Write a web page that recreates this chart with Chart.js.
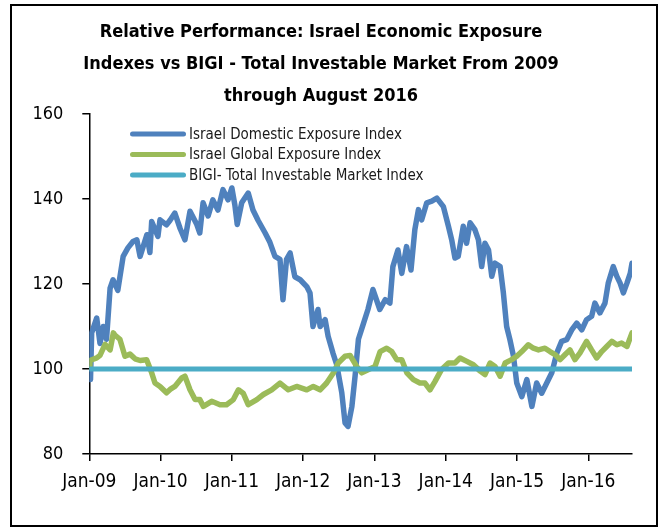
<!DOCTYPE html>
<html>
<head>
<meta charset="utf-8">
<script src="https://cdn.jsdelivr.net/npm/chart.js@4.4.1/dist/chart.umd.min.js"></script>
<style>
    body { margin: 0; background: #fff; }
    #moldura { position: absolute; left: 10px; top: 4px; width: 644px; height: 519px; border: 2px solid #000; }
    #grafico { position: absolute; left: 0; top: 0; }
</style>
</head>
<body>
<div id="moldura"></div>
<canvas id="grafico" width="663" height="530"></canvas>
<script>
// meses desde Jan-09 e valores
const mesesDomestico = [0, 0.2, 0.4, 1.25, 1.8, 2.35, 2.9, 3.5, 4.0, 4.8,
    5.7, 6.5, 7.35, 8.0, 8.55, 9.7, 10.2, 10.5, 11.55, 11.9,
    13.0, 13.6, 14.4, 15.3, 16.1, 16.95, 18.1, 18.6, 19.15, 20.0,
    20.8, 21.65, 22.5, 23.35, 24.0, 24.5, 24.9, 25.65, 26.75, 27.55,
    28.4, 29.6, 30.4, 31.25, 32.1, 32.6, 33.2, 33.8, 34.6, 35.5,
    36.6, 37.15, 37.65, 38.5, 38.85, 39.7, 40.2, 41.0, 41.65, 42.5,
    43.05, 43.55, 44.2, 44.75, 45.3, 46.1, 46.9, 47.75, 48.9, 49.8,
    50.6, 51.1, 51.95, 52.6, 53.4, 54.15, 54.8, 55.4, 55.95, 56.8,
    57.65, 58.5, 59.6, 60.45, 61.0, 61.55, 62.1, 62.95, 63.5, 64.1,
    64.9, 65.5, 66.05, 66.6, 67.2, 67.75, 68.3, 69.15, 69.7, 70.25,
    70.8, 71.4, 71.95, 72.8, 73.65, 74.5, 75.3, 76.15, 77.0, 77.85,
    78.7, 79.5, 80.35, 81.2, 82.05, 82.9, 83.7, 84.55, 85.1, 85.95,
    86.8, 87.35, 88.2, 88.8, 89.35, 89.9, 90.5, 91.05, 91.35];
const domestico = [100, 97.5, 108.5, 112, 106, 110, 107, 119, 121, 118.5,
    126.5, 128.5, 130, 130.4, 126.5, 131.6, 127.4, 134.7, 131.2, 135.1,
    133.9, 135, 136.7, 133, 130.4, 137.1, 134, 132, 139.1, 136,
    139.8, 137.4, 142.2, 139.8, 142.6, 138.6, 134, 139.1, 141.4, 137.4,
    135, 132, 129.8, 126.5, 125.8, 116.3, 125.8, 127.3, 121.7, 121,
    119.4, 117.9, 110, 114, 110, 111.6, 107.7, 103.8, 101, 94.4,
    87.3, 86.5, 91.2, 98.5, 107, 110.5, 114, 118.7, 114, 116.3,
    115.5, 124.1, 128, 122.5, 128.8, 123.3, 132.8, 137.5, 135.1, 139.1,
    139.5, 140.2, 138.2, 133.6, 130.4, 126.1, 126.5, 133.6, 129.6, 134.4,
    132.8, 130.4, 124.1, 129.6, 128, 121.8, 124.9, 124.1, 117.9, 110,
    106.9, 103, 96.7, 93.5, 97.5, 91.2, 96.7, 94.3, 96.7, 99.1,
    103.8, 106.5, 106.9, 109.2, 110.8, 109.2, 111.6, 112.4, 115.5, 113.2,
    115.5, 120.2, 124.1, 121.8, 120.2, 117.9, 120.2, 122.5, 124.9];

const mesesGlobal = [0, 0.1, 1.25, 1.8, 2.65, 3.5, 4.05, 4.3, 5.15, 6.0,
    6.85, 7.7, 8.55, 9.65, 10.5, 11.05, 11.9, 13.0, 13.6, 14.4,
    15.55, 16.1, 16.95, 17.8, 18.6, 19.2, 20.6, 22.0, 23.1, 24.25,
    25.1, 25.9, 26.75, 28.2, 29.3, 30.7, 32.1, 33.5, 34.9, 36.6,
    37.7, 38.85, 39.95, 41.1, 41.9, 43.05, 43.9, 45.0, 45.85, 47.0,
    48.1, 48.95, 50.05, 50.9, 51.75, 52.6, 53.45, 54.55, 55.65, 56.5,
    57.35, 58.2, 59.3, 60.45, 61.55, 62.4, 63.55, 64.65, 65.8, 66.6,
    67.45, 68.3, 69.15, 70.0, 71.1, 71.95, 72.8, 73.9, 74.75, 75.6,
    76.7, 77.55, 78.4, 79.25, 80.1, 80.9, 81.75, 82.6, 83.7, 84.55,
    85.4, 86.25, 87.1, 87.95, 88.8, 89.6, 90.5, 91.35];
const global = [100.5, 102, 102.6, 103.2, 105.8, 104.5, 108.5, 108, 107, 103,
    103.5, 102.4, 102, 102.2, 99.1, 96.7, 95.9, 94.4, 95.2, 95.9,
    97.9, 98.3, 95.1, 92.8, 92.8, 91.2, 92.4, 91.6, 91.6, 92.8,
    95.1, 94.3, 91.6, 92.8, 94, 95.1, 96.7, 95.1, 95.9, 95.1,
    95.9, 95.1, 96.7, 99.1, 101.4, 103, 103.2, 100.6, 99.1, 99.9,
    100.6, 104.1, 104.9, 104.1, 102.2, 102.2, 99.1, 97.5, 96.7, 96.7,
    95.1, 97.1, 99.9, 101.4, 101.4, 102.6, 101.8, 101, 99.5, 98.7,
    101.4, 100.6, 98.3, 101.4, 102.2, 103, 104.1, 105.7, 104.9, 104.5,
    104.9, 104.1, 103.4, 102.2, 103.4, 104.5, 102.2, 103.8, 106.5, 104.5,
    102.6, 104.1, 105.3, 106.5, 105.7, 106.1, 105.3, 108.5];

const mesesBigi = [0, 91.35];
const bigi = [100, 100];

const rotulosX = ['Jan-09', 'Jan-10', 'Jan-11', 'Jan-12', 'Jan-13', 'Jan-14', 'Jan-15', 'Jan-16'];
const nomesSeries = ['Israel Domestic Exposure Index', 'Israel Global Exposure Index', 'BIGI- Total Investable Market Index'];
const titulo = ['Relative Performance: Israel Economic Exposure', 'Indexes vs BIGI - Total Investable Market From 2009', 'through August 2016'];

const fonte = '"DejaVu Sans Condensed", "Liberation Sans Narrow", sans-serif';

function pares(meses, valores) {
    return meses.map((m, i) => ({ x: m, y: valores[i] }));
}

// legenda desenhada dentro da area do grafico
const legendaPlugin = {
    id: 'legenda',
    afterDraw(chart) {
        const ctx = chart.ctx;
        ctx.save();
        ctx.font = '15px ' + fonte;
        ctx.textBaseline = 'middle';
        ctx.textAlign = 'left';
        chart.data.datasets.forEach((ds, i) => {
            const y = 134 + i * 20.5;
            ctx.strokeStyle = ds.borderColor;
            ctx.lineWidth = 5;
            ctx.lineCap = 'round';
            ctx.beginPath();
            ctx.moveTo(132.5, y);
            ctx.lineTo(183.5, y);
            ctx.stroke();
            ctx.fillStyle = '#1a1a1a';
            ctx.fillText(ds.label, 189, y + 1);
        });
        ctx.restore();
    }
};

const contexto = document.getElementById('grafico').getContext('2d');
new Chart(contexto, {
    type: 'line',
    data: {
        datasets: [
            { label: nomesSeries[0], data: pares(mesesDomestico, domestico), borderColor: '#4f81bd', borderWidth: 5.5, order: 2 },
            { label: nomesSeries[1], data: pares(mesesGlobal, global), borderColor: '#9bbb59', borderWidth: 5.5, order: 1 },
            { label: nomesSeries[2], data: pares(mesesBigi, bigi), borderColor: '#4bacc6', borderWidth: 5, order: 0 }
        ]
    },
    options: {
        responsive: false,
        animation: false,
        devicePixelRatio: 1,
        elements: {
            point: { radius: 0 },
            line: { tension: 0, borderJoinStyle: 'round', borderCapStyle: 'round', fill: false }
        },
        layout: { padding: { left: 10, right: 31, top: 0, bottom: 0 } },
        plugins: {
            legend: { display: false },
            tooltip: { enabled: false },
            title: {
                display: true,
                text: titulo,
                color: '#000',
                font: { family: fonte, size: 18, weight: 'bold', lineHeight: 32 / 18 },
                padding: { top: 16.5, bottom: 1.5 }
            }
        },
        scales: {
            x: {
                type: 'linear',
                min: 0,
                max: 91.35,
                afterFit: (escala) => { escala.height = 76; },
                border: { display: true, color: '#000', width: 1.5 },
                grid: { display: true, drawOnChartArea: false, drawTicks: true, tickLength: 7, color: '#000', lineWidth: 1.5 },
                ticks: {
                    stepSize: 12,
                    includeBounds: false,
                    autoSkip: false,
                    maxRotation: 0,
                    padding: 10,
                    color: '#000',
                    font: { family: fonte, size: 19 },
                    callback: (valor) => rotulosX[Math.round(valor / 12)]
                }
            },
            y: {
                min: 80,
                max: 160,
                afterFit: (escala) => { escala.width = 79.3; },
                border: { display: true, color: '#000', width: 1.5 },
                grid: { display: true, drawOnChartArea: false, drawTicks: true, tickLength: 7, color: '#000', lineWidth: 1.5 },
                ticks: {
                    stepSize: 20,
                    padding: 19,
                    color: '#000',
                    font: { family: fonte, size: 18 }
                }
            }
        }
    },
    plugins: [legendaPlugin]
});
</script>
</body>
</html>
